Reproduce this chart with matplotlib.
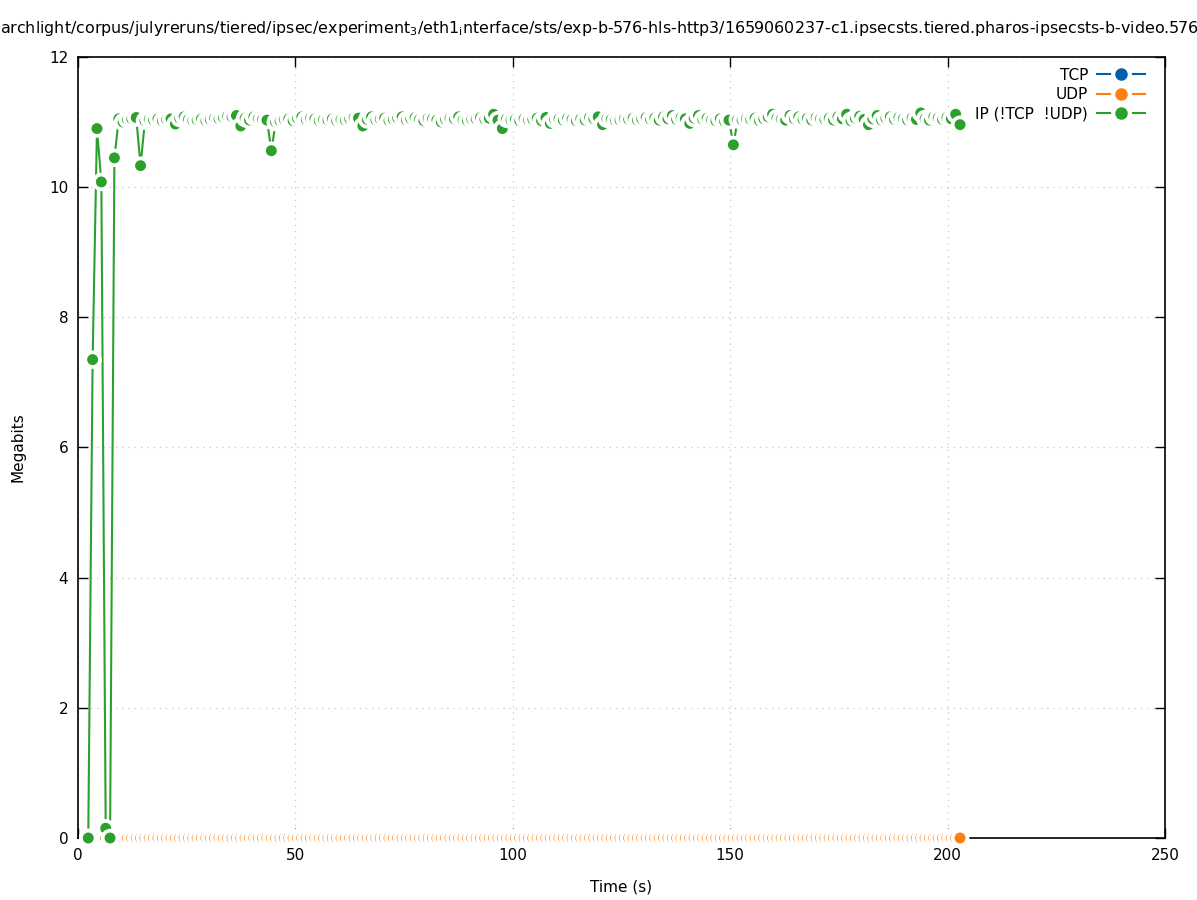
import numpy as np
import matplotlib
matplotlib.use("Agg")
import matplotlib.pyplot as plt
from matplotlib.lines import Line2D
from matplotlib.legend_handler import HandlerTuple

plt.rcParams['font.family'] = ['DejaVu Sans']
plt.rcParams['mathtext.fontset'] = 'dejavusans'

# sampling: one sample roughly every second
t_start = 2.35
t_step = 1.0025

# IP (!TCP !UDP) throughput in megabits
ip_mbits = [
    0.0, 7.35, 10.9, 10.08, 0.15, 0.0, 10.45, 11.05, 11.0, 11.04,
    11.05, 11.07, 10.33, 11.02, 11.04, 11.03, 11.05, 11.02, 11.04, 11.05,
    10.97, 11.06, 11.08, 11.04, 11.02, 11.03, 11.05, 11.02, 11.04, 11.06,
    11.05, 11.07, 11.09, 11.08, 11.1, 10.94, 11.06, 11.03, 11.08, 11.05,
    11.04, 11.03, 10.56, 11.0, 11.02, 11.04, 11.05, 11.02, 11.06, 11.08,
    11.04, 11.06, 11.05, 11.02, 11.04, 11.03, 11.05, 11.02, 11.04, 11.03,
    11.05, 11.07, 11.06, 10.94, 11.04, 11.08, 11.03, 11.05, 11.06, 11.02,
    11.04, 11.06, 11.08, 11.03, 11.05, 11.07, 11.04, 11.02, 11.06, 11.05,
    11.03, 11.0, 11.04, 11.06, 11.05, 11.08, 11.03, 11.02, 11.04, 11.05,
    11.07, 11.04, 11.06, 11.12, 11.03, 10.9, 11.05, 11.03, 11.04, 11.02,
    11.05, 11.03, 11.04, 11.06, 11.02, 11.07, 10.98, 11.04, 11.05, 11.03,
    11.06, 11.04, 11.02, 11.05, 11.03, 11.07, 11.05, 11.08, 10.96, 11.05,
    11.04, 11.02, 11.03, 11.05, 11.04, 11.06, 11.03, 11.05, 11.07, 11.04,
    11.06, 11.03, 11.08, 11.05, 11.1, 11.04, 11.07, 11.05, 10.98, 11.06,
    11.1, 11.04, 11.06, 11.03, 11.02, 11.05, 11.01, 11.03, 10.65, 11.04,
    11.03, 11.05, 11.04, 11.06, 11.02, 11.05, 11.08, 11.12, 11.06, 11.04,
    11.03, 11.1, 11.05, 11.08, 11.04, 11.06, 11.03, 11.07, 11.05, 11.04,
    11.06, 11.03, 11.08, 11.05, 11.12, 11.02, 11.06, 11.09, 11.04, 10.96,
    11.05, 11.1, 11.03, 11.06, 11.08, 11.04, 11.07, 11.05, 11.03, 11.06,
    11.04, 11.14, 11.05, 11.03, 11.08, 11.06, 11.04, 11.07, 11.05, 11.12,
    10.96,
]
# UDP and TCP stay at zero the whole run
udp_mbits = [0.0] * len(ip_mbits)
tcp_mbits = [0.0] * len(ip_mbits)

times = t_start + t_step * np.arange(len(ip_mbits))

series_names = ['TCP', 'UDP', 'IP (!TCP  !UDP)']
series_colors = ['#0060ad', '#ff7f0e', '#2ca02c']
series_values = [tcp_mbits, udp_mbits, ip_mbits]

x_ticks = [0, 50, 100, 150, 200, 250]
y_ticks = [0, 2, 4, 6, 8, 10, 12]

title = (r'archlight/corpus/julyreruns/tiered/ipsec/experiment$_3$/eth1$_\mathrm{i}$nterface/sts/'
         r'exp-b-576-hls-http3/1659060237-c1.ipsecsts.tiered.pharos-ipsecsts-b-video.576')

dot_s = 62
halo_s = 175
fs = 11

fig = plt.figure(figsize=(11.97, 9.0), dpi=100)
ax = fig.add_axes([0.0652, 0.0689, 0.9081, 0.8678])

for name, col, vals in zip(series_names, series_colors, series_values):
    ax.plot(times, vals, color=col, lw=1.5, zorder=2, clip_on=False)
    # white halo then dot, interleaved so every point blanks the previous one
    xs = np.repeat(times, 2)
    ys = np.repeat(np.asarray(vals), 2)
    sizes = np.tile([halo_s, dot_s], len(vals))
    cols = ['white', col] * len(vals)
    ax.scatter(xs, ys, s=sizes, c=cols, linewidths=0, zorder=3, clip_on=False)

ax.set_xlim(0, 250)
ax.set_ylim(0, 12)
ax.set_xticks(x_ticks)
ax.set_yticks(y_ticks)
ax.tick_params(direction='in', length=7, width=1, top=True, right=True,
               labelsize=fs, pad=7)
ax.grid(True, color='#c8c8c8', linestyle=(0, (1, 4)), lw=0.9)
for sp in ax.spines.values():
    sp.set_linewidth(1.2)
ax.set_xlabel('Time (s)', fontsize=fs, labelpad=12)
ax.set_ylabel('Megabits', fontsize=fs, labelpad=17)

handles = []
for col in series_colors:
    handles.append((Line2D([], [], color=col, lw=1.5),
                    Line2D([], [], ls='', marker='o', ms=14, mfc='white', mec='white'),
                    Line2D([], [], ls='', marker='o', ms=8, mfc=col, mec=col)))
ax.legend(handles, series_names, loc='upper right', bbox_to_anchor=(0.994, 1.004),
          frameon=False, markerfirst=False, fontsize=fs, handlelength=3.1,
          handletextpad=0.6, labelspacing=0.28,
          handler_map={tuple: HandlerTuple(ndivide=1, pad=0)})

fig.text(0.0, 0.968, title, ha='left', va='center', fontsize=11.4)

fig.savefig('out.png', dpi=100)
